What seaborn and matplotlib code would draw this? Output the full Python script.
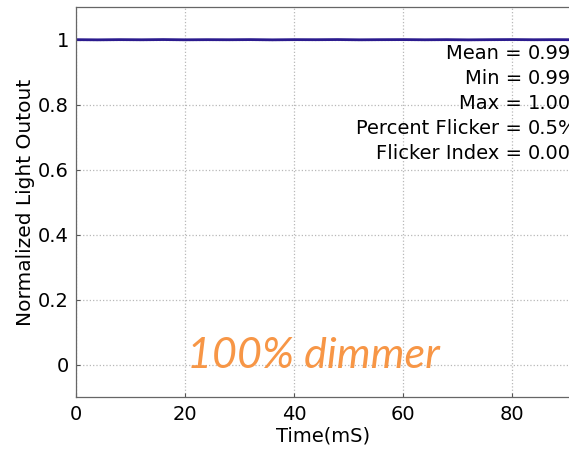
import matplotlib
matplotlib.use("Agg")
import matplotlib.pyplot as plt
import seaborn as sns
import pandas as pd
from matplotlib.ticker import FuncFormatter

# light output trace (ms, normalized)
time_ms = [0, 4, 8, 12, 16, 20, 24, 28, 32, 36, 40, 44, 48, 52, 56, 60,
           64, 68, 72, 76, 80, 84, 88, 91]
light = [0.9995, 0.9990, 0.9996, 0.9992, 0.9998, 0.9991, 0.9995, 0.9993,
         0.9997, 0.9990, 0.9996, 0.9994, 0.9998, 0.9991, 0.9995, 0.9997,
         0.9992, 0.9996, 0.9990, 0.9995, 0.9998, 0.9993, 0.9996, 0.9994]

stat_names = ["Mean =", "Min =", "Max =", "Percent Flicker =", "Flicker Index ="]
stat_values = ["0.996", "0.990", "1.000", "0.5%", "0.002"]
stat_y = [0.957, 0.880, 0.803, 0.726, 0.649]

x_ticks = [0, 20, 40, 60, 80]
y_ticks = [0, 0.2, 0.4, 0.6, 0.8, 1.0]

df = pd.DataFrame({"Time": time_ms, "Light": light})

sns.set_style("ticks")
plt.rcParams["font.family"] = ["DejaVu Sans"]
plt.rcParams["text.color"] = "black"

fig = plt.figure(figsize=(5.69, 4.5), dpi=100)
ax = fig.add_axes([76 / 569, 53 / 450, 495 / 569, 390 / 450])

sns.lineplot(data=df, x="Time", y="Light", ax=ax, color="#2b1b8e", linewidth=2.0)

ax.set_xlim(0, 90.8)
ax.set_ylim(-0.1, 1.1)
ax.set_xticks(x_ticks)
ax.set_yticks(y_ticks)
ax.yaxis.set_major_formatter(FuncFormatter(lambda v, p: "%g" % v))
ax.grid(True, linestyle=":", color="#b8b8b8", linewidth=0.9)
ax.tick_params(direction="in", length=3, width=0.8, colors="#555555",
               labelcolor="black", labelsize=14)
ax.tick_params(axis="y", pad=5)
ax.tick_params(axis="x", pad=6)
for s in ax.spines.values():
    s.set_color("#666666")
    s.set_linewidth(0.9)

ax.set_xlabel("Time(mS)", fontsize=14, color="black")
ax.set_ylabel("Normalized Light Outout", fontsize=14.5, color="black")
ax.xaxis.set_label_coords(0.5, -0.075)
ax.yaxis.set_label_coords(-0.083, 0.5)

for name, val, y in zip(stat_names, stat_values, stat_y):
    ax.text(81.8, y, name, ha="right", va="center", fontsize=14, color="black", clip_on=False)
    ax.text(82.9, y, val, ha="left", va="center", fontsize=14, color="black", clip_on=False)

ax.text(43.6, -0.012, "100% dimmer", ha="center", va="baseline",
        fontsize=31, style="italic", color="#f79646", family=["Lato", "DejaVu Sans"])

fig.savefig("out.png", dpi=100)
